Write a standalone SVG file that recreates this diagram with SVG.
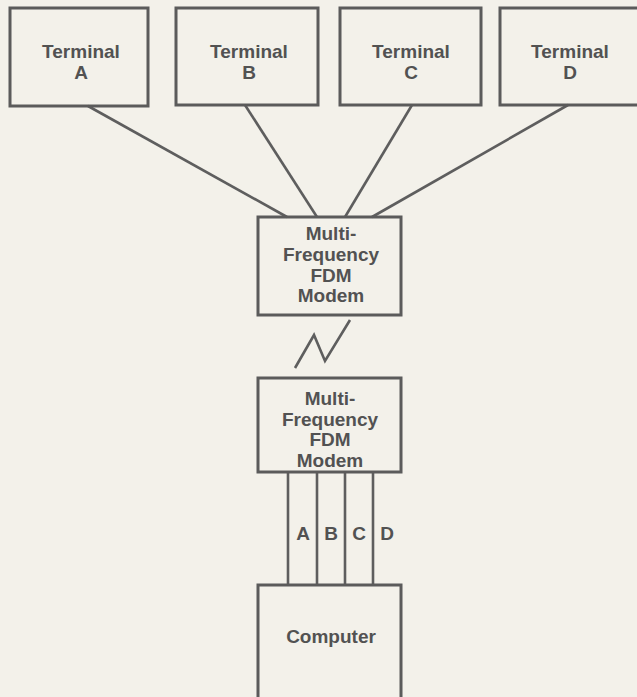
<svg xmlns="http://www.w3.org/2000/svg" width="637" height="697" viewBox="0 0 637 697">
<style>
.box{fill:none;stroke:#5b5b5b;stroke-width:3}
.ln{fill:none;stroke:#5e5e5e;stroke-width:2.6;stroke-linejoin:miter}
.t{font-family:"Liberation Sans",Arial,sans-serif;font-weight:bold;font-size:19px;fill:#525252;text-anchor:middle}
</style>
<rect x="0" y="0" width="637" height="697" fill="#f3f1ea"/>
<g id="connectors">
<line class="ln" x1="88" y1="106" x2="287" y2="217"/>
<line class="ln" x1="245" y1="105" x2="317" y2="217"/>
<line class="ln" x1="412" y1="105" x2="345" y2="217"/>
<line class="ln" x1="568" y1="105" x2="372" y2="217"/>
<polyline class="ln" points="295,368 314,335 325,361 350,320"/>
<line class="ln" x1="288" y1="472" x2="288" y2="585"/>
<line class="ln" x1="317" y1="472" x2="317" y2="585"/>
<line class="ln" x1="345" y1="472" x2="345" y2="585"/>
<line class="ln" x1="373" y1="472" x2="373" y2="585"/>
<text class="t" x="303" y="540">A</text>
<text class="t" x="331" y="540">B</text>
<text class="t" x="359" y="540">C</text>
<text class="t" x="387" y="540">D</text>
</g>
<g id="terminalA">
<rect class="box" x="10" y="8" width="138" height="98"/>
<text class="t" x="81" y="58">Terminal</text>
<text class="t" x="81" y="79">A</text>
</g>
<g id="terminalB">
<rect class="box" x="176" y="8" width="142" height="97"/>
<text class="t" x="249" y="58">Terminal</text>
<text class="t" x="249" y="79">B</text>
</g>
<g id="terminalC">
<rect class="box" x="340" y="8" width="141" height="97"/>
<text class="t" x="411" y="58">Terminal</text>
<text class="t" x="411" y="79">C</text>
</g>
<g id="terminalD">
<rect class="box" x="500" y="8" width="145" height="97"/>
<text class="t" x="570" y="58">Terminal</text>
<text class="t" x="570" y="79">D</text>
</g>
<g id="modem1">
<rect class="box" x="258" y="217" width="143" height="98"/>
<text class="t" x="331" y="240">Multi-</text>
<text class="t" x="331" y="261">Frequency</text>
<text class="t" x="331" y="281.5">FDM</text>
<text class="t" x="331" y="302">Modem</text>
</g>
<g id="modem2">
<rect class="box" x="258" y="378" width="143" height="94"/>
<text class="t" x="330" y="405">Multi-</text>
<text class="t" x="330" y="425.5">Frequency</text>
<text class="t" x="330" y="446">FDM</text>
<text class="t" x="330" y="466.5">Modem</text>
</g>
<g id="computer">
<rect class="box" x="258" y="585" width="143" height="120"/>
<text class="t" x="331" y="643">Computer</text>
</g>
</svg>
